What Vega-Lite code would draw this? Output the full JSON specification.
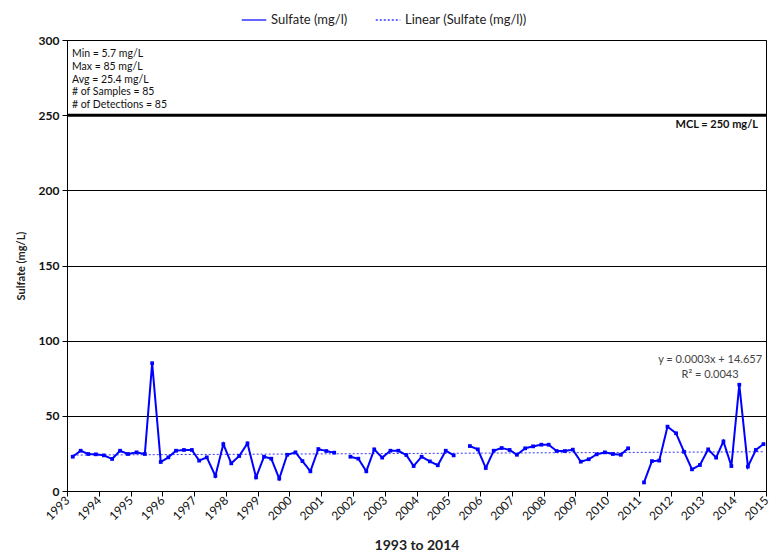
{
  "$schema": "https://vega.github.io/schema/vega-lite/v6.json",
  "width": 699,
  "height": 451,
  "autosize": {"type": "none"},
  "padding": {"left": 67, "top": 40, "right": 6, "bottom": 68},
  "background": "white",
  "config": {
    "font": "Lato",
    "view": {"stroke": "black", "strokeWidth": 1},
    "axis": {"labelColor": "#111", "titleColor": "#222", "domainColor": "black", "tickColor": "black"}
  },
  "datasets": {
    "sulfate": [
      {"date": 1993.18, "v": 22.8}, {"date": 1993.43, "v": 26.8}, {"date": 1993.67, "v": 24.6}, {"date": 1993.91, "v": 24.4},
      {"date": 1994.16, "v": 23.7}, {"date": 1994.42, "v": 21.3}, {"date": 1994.67, "v": 26.8}, {"date": 1994.92, "v": 24.6},
      {"date": 1995.19, "v": 25.7}, {"date": 1995.45, "v": 24.6}, {"date": 1995.68, "v": 85}, {"date": 1995.95, "v": 19.3},
      {"date": 1996.19, "v": 22.4}, {"date": 1996.43, "v": 26.8}, {"date": 1996.68, "v": 27.3}, {"date": 1996.93, "v": 27.3},
      {"date": 1997.16, "v": 20.2}, {"date": 1997.40, "v": 22.4}, {"date": 1997.67, "v": 10.0}, {"date": 1997.92, "v": 31.2},
      {"date": 1998.17, "v": 18.4}, {"date": 1998.42, "v": 23.3}, {"date": 1998.68, "v": 31.7}, {"date": 1998.95, "v": 9.1},
      {"date": 1999.20, "v": 22.8}, {"date": 1999.43, "v": 21.5}, {"date": 1999.68, "v": 8.2}, {"date": 1999.93, "v": 24.1},
      {"date": 2000.19, "v": 25.7}, {"date": 2000.41, "v": 19.9}, {"date": 2000.66, "v": 13.1}, {"date": 2000.91, "v": 27.9},
      {"date": 2001.16, "v": 26.6}, {"date": 2001.41, "v": 25.5}, {"date": 2001.66, "v": null}, {"date": 2001.92, "v": 22.8},
      {"date": 2002.17, "v": 21.5}, {"date": 2002.42, "v": 13.1}, {"date": 2002.67, "v": 27.7}, {"date": 2002.92, "v": 22.2},
      {"date": 2003.18, "v": 26.8}, {"date": 2003.43, "v": 26.8}, {"date": 2003.68, "v": 23.9}, {"date": 2003.91, "v": 16.6},
      {"date": 2004.16, "v": 22.8}, {"date": 2004.42, "v": 19.7}, {"date": 2004.67, "v": 17.1}, {"date": 2004.92, "v": 26.8},
      {"date": 2005.17, "v": 23.7}, {"date": 2005.42, "v": null}, {"date": 2005.68, "v": 29.9}, {"date": 2005.93, "v": 27.7},
      {"date": 2006.18, "v": 15.3}, {"date": 2006.43, "v": 26.8}, {"date": 2006.68, "v": 28.6}, {"date": 2006.93, "v": 27.3},
      {"date": 2007.16, "v": 24.1}, {"date": 2007.42, "v": 28.4}, {"date": 2007.67, "v": 29.7}, {"date": 2007.93, "v": 30.8},
      {"date": 2008.16, "v": 30.8}, {"date": 2008.41, "v": 26.6}, {"date": 2008.67, "v": 26.6}, {"date": 2008.92, "v": 27.5},
      {"date": 2009.17, "v": 19.5}, {"date": 2009.42, "v": 21.1}, {"date": 2009.67, "v": 24.4}, {"date": 2009.93, "v": 25.7},
      {"date": 2010.18, "v": 24.6}, {"date": 2010.43, "v": 24.1}, {"date": 2010.66, "v": 28.4}, {"date": 2010.91, "v": null},
      {"date": 2011.16, "v": 5.7}, {"date": 2011.41, "v": 19.9}, {"date": 2011.64, "v": 20.2}, {"date": 2011.90, "v": 42.8},
      {"date": 2012.17, "v": 38.4}, {"date": 2012.42, "v": 26.1}, {"date": 2012.67, "v": 14.4}, {"date": 2012.92, "v": 17.3},
      {"date": 2013.18, "v": 27.7}, {"date": 2013.43, "v": 22.2}, {"date": 2013.66, "v": 33.0}, {"date": 2013.91, "v": 16.6},
      {"date": 2014.16, "v": 70.7}, {"date": 2014.43, "v": 16.2}, {"date": 2014.68, "v": 27.3}, {"date": 2014.92, "v": 31.2}
    ],
    "mcl": [{"y": 250, "label": "MCL = 250 mg/L", "x": 2015}],
    "stats": [{"x": 1993, "y": 300, "label": "Min = 5.7 mg/L\nMax = 85 mg/L\nAvg = 25.4 mg/L\n# of Samples = 85\n# of Detections = 85"}],
    "eq": [{"x": 2013.24, "y": 87, "label": "y = 0.0003x + 14.657"}, {"x": 2013.24, "y": 77, "label": "R² = 0.0043"}]
  },
  "layer": [
    {
      "data": {"name": "sulfate"},
      "transform": [{"regression": "v", "on": "date"}],
      "mark": {"type": "line", "color": "#3333ff", "strokeWidth": 1, "clip": true},
      "encoding": {
        "x": {"field": "date", "type": "quantitative"},
        "y": {"field": "v", "type": "quantitative"},
        "strokeDash": {"datum": "Linear (Sulfate (mg/l))"}
      }
    },
    {
      "data": {"name": "sulfate"},
      "mark": {"type": "line", "color": "#0000ff", "strokeWidth": 2, "invalid": "break-paths-filter-domains",
               "point": {"shape": "square", "size": 14, "filled": true, "color": "#0000ff"}},
      "encoding": {
        "x": {"field": "date", "type": "quantitative",
              "scale": {"domain": [1993, 2015], "nice": false, "zero": false},
              "axis": {"values": [1993,1994,1995,1996,1997,1998,1999,2000,2001,2002,2003,2004,2005,2006,2007,2008,2009,2010,2011,2012,2013,2014,2015],
                       "tickCount": 23, "format": "d", "grid": false, "labelAngle": -45, "labelAlign": "right", "labelBaseline": "middle",
                       "labelFontSize": 12, "labelPadding": 2, "tickSize": 5, "labelOverlap": false, "labelSeparation": 0, "labelBound": false,
                       "title": "1993 to 2014", "titleFontSize": 14, "titleFontWeight": "bold", "titlePadding": 17}},
        "y": {"field": "v", "type": "quantitative",
              "scale": {"domain": [0, 300], "nice": false},
              "axis": {"values": [0, 50, 100, 150, 200, 250, 300], "grid": true, "gridColor": "black", "gridWidth": 1, "gridOpacity": 1,
                       "labelFontSize": 12, "labelFontWeight": "bold", "tickSize": 5, "labelPadding": 3,
                       "title": "Sulfate (mg/L)", "titleFontSize": 11, "titleFontWeight": "bold", "titlePadding": 12}},
        "strokeDash": {"datum": "Sulfate (mg/l)",
                       "scale": {"domain": ["Sulfate (mg/l)", "Linear (Sulfate (mg/l))"], "range": [[1, 0], [2, 2]]},
                       "legend": {"title": null, "orient": "none", "legendX": 174, "legendY": -33, "direction": "horizontal",
                                  "symbolType": "stroke", "symbolStrokeColor": "#0000ff", "symbolSize": 600, "symbolStrokeWidth": 1.5,
                                  "labelFontSize": 13, "labelColor": "#222", "columnPadding": 24}}
      }
    },
    {
      "data": {"name": "mcl"},
      "mark": {"type": "rule", "color": "black", "strokeWidth": 3},
      "encoding": {"y": {"field": "y", "type": "quantitative"}}
    },
    {
      "data": {"name": "mcl"},
      "mark": {"type": "text", "align": "right", "baseline": "top", "dx": -8, "dy": 4, "fontWeight": "bold", "fontSize": 11, "color": "#111"},
      "encoding": {"x": {"field": "x", "type": "quantitative"}, "y": {"field": "y", "type": "quantitative"}, "text": {"field": "label"}}
    },
    {
      "data": {"name": "stats"},
      "mark": {"type": "text", "align": "left", "baseline": "top", "dx": 5, "dy": 9, "fontSize": 10.5, "lineBreak": "\n", "lineHeight": 12.8, "color": "#111"},
      "encoding": {"x": {"field": "x", "type": "quantitative"}, "y": {"field": "y", "type": "quantitative"}, "text": {"field": "label"}}
    },
    {
      "data": {"name": "eq"},
      "mark": {"type": "text", "align": "center", "baseline": "middle", "fontSize": 11, "color": "#444"},
      "encoding": {"x": {"field": "x", "type": "quantitative"}, "y": {"field": "y", "type": "quantitative"}, "text": {"field": "label"}}
    }
  ]
}
